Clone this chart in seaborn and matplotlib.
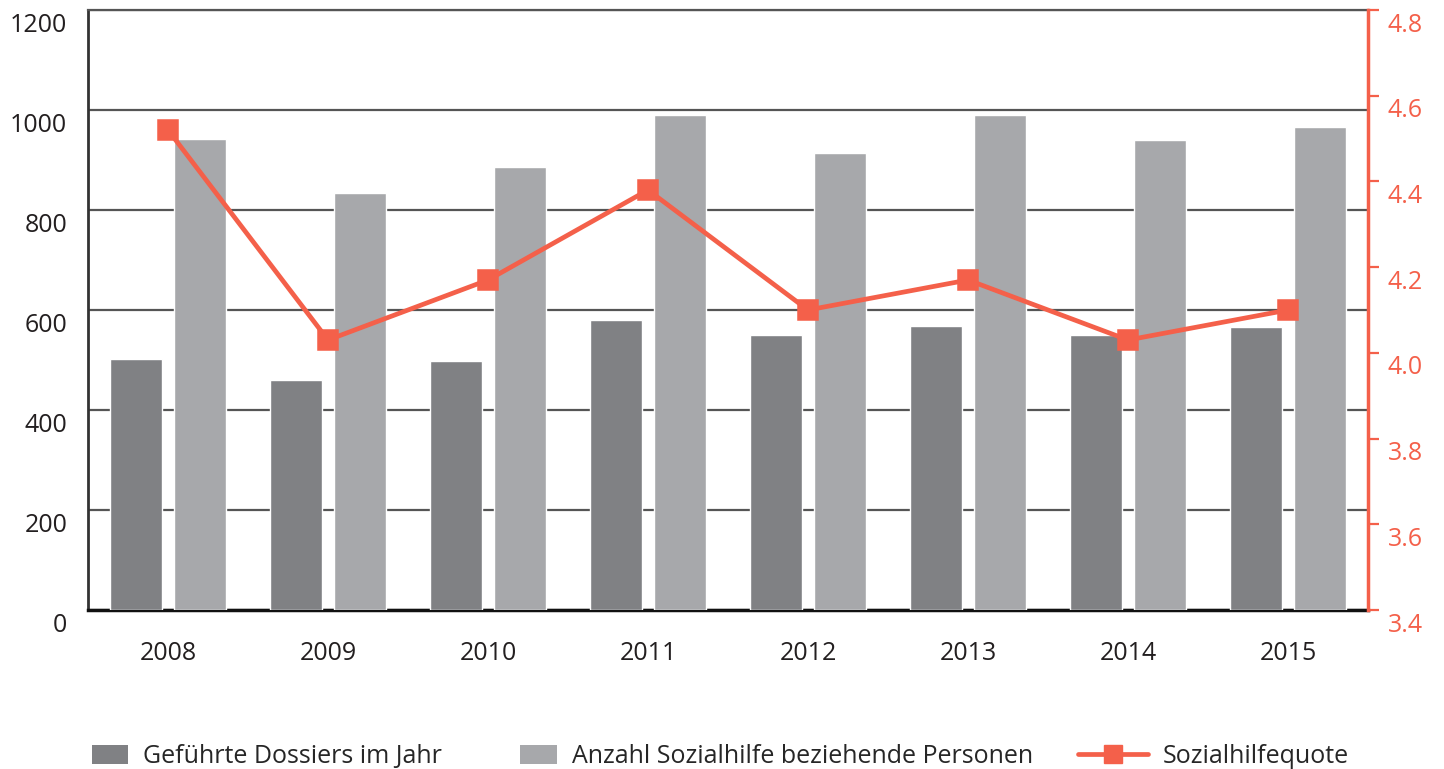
import matplotlib
matplotlib.use("Agg")
import matplotlib.pyplot as plt
import matplotlib.transforms as mtransforms
from matplotlib.patches import Patch, Rectangle
from matplotlib.lines import Line2D
from matplotlib.legend_handler import HandlerPatch
import pandas as pd
import seaborn as sns

years = ['2008', '2009', '2010', '2011', '2012', '2013', '2014', '2015']
dossiers = [502, 460, 498, 580, 550, 568, 550, 566]
personen = [942, 834, 886, 990, 914, 990, 940, 966]
quote = [4.52, 4.03, 4.17, 4.38, 4.10, 4.17, 4.03, 4.10]

lbl_dossiers = 'Geführte Dossiers im Jahr'
lbl_personen = 'Anzahl Sozialhilfe beziehende Personen'
lbl_quote = 'Sozialhilfequote'

left_ticks = [0, 200, 400, 600, 800, 1000, 1200]
right_ticks = [3.4, 3.6, 3.8, 4.0, 4.2, 4.4, 4.6, 4.8]

dark = '#808184'
light = '#a7a8ab'
orange = '#f4604a'

sns.set_style('white')
plt.rcParams['font.family'] = ['Open Sans', 'DejaVu Sans']

bars = pd.DataFrame({
    'Jahr': years * 2,
    'Serie': [lbl_dossiers] * len(years) + [lbl_personen] * len(years),
    'Wert': dossiers + personen,
})
line = pd.DataFrame({'Jahr': years, 'Quote': quote})

fig = plt.figure(figsize=(14.44, 7.69), dpi=100)
ax = fig.add_axes([88 / 1444, 1 - 610 / 769, 1280 / 1444, 600 / 769])

sns.barplot(data=bars, x='Jahr', y='Wert', hue='Serie', order=years,
            palette=[dark, light], width=0.8, gap=0.19, saturation=1,
            ax=ax, zorder=3, legend=False)
ax.set_xlim(-0.5, len(years) - 0.5)
ax.set_ylim(0, 1200)
ax.set_yticks(left_ticks)
ax.set_yticklabels([str(t) for t in left_ticks])
ax.set_xlabel('')
ax.set_ylabel('')
ax.yaxis.grid(True, color='#555555', linewidth=1.6, zorder=0)
ax.set_axisbelow(True)
ax.tick_params(axis='y', length=0, pad=15, labelsize=18, colors='#231f20')
ax.tick_params(axis='x', length=0, pad=22, labelsize=18, colors='#231f20')
ax.spines['bottom'].set_color('#111111')
ax.spines['bottom'].set_linewidth(2.5)
ax.spines['left'].set_color('#333333')
ax.spines['left'].set_linewidth(2)
ax.spines['top'].set_color('#555555')
ax.spines['top'].set_linewidth(1.6)
ax.spines['right'].set_visible(False)

ax2 = ax.twinx()
sns.pointplot(data=line, x='Jahr', y='Quote', order=years, color=orange,
              markers='s', markersize=13, linewidth=3.4, ax=ax2)
ax2.set_xlim(-0.5, len(years) - 0.5)
ax2.set_ylim(3.4, 4.8)
ax2.set_yticks(right_ticks)
ax2.set_yticklabels([f'{t:.1f}' for t in right_ticks])
ax2.set_ylabel('')
ax2.tick_params(axis='y', direction='out', length=8, width=1.6, pad=6,
                labelsize=18, colors=orange)
for side in ['left', 'top', 'bottom']:
    ax2.spines[side].set_visible(False)
ax2.spines['right'].set_color(orange)
ax2.spines['right'].set_linewidth(2.5)

# y labels sit a bit below their gridlines in the original
shift = mtransforms.ScaledTranslation(0, -0.12, fig.dpi_scale_trans)
for a in (ax, ax2):
    for tick in a.yaxis.get_major_ticks():
        tick.label1.set_transform(tick.label1.get_transform() + shift)
        tick.label2.set_transform(tick.label2.get_transform() + shift)


def small_square(legend, orig_handle, xdescent, ydescent, width, height, fontsize):
    w = 26
    h = 13
    return Rectangle((-xdescent + width - w, -ydescent + (height - h) / 2), w, h)


handles = [
    Patch(facecolor=dark, edgecolor='none'),
    Patch(facecolor=light, edgecolor='none'),
    Line2D([], [], color=orange, linewidth=3.4, marker='s', markersize=13),
]
fig.legend(handles, [lbl_dossiers, lbl_personen, lbl_quote],
           loc='center', bbox_to_anchor=(0.487, 0.016), ncol=3, frameon=False,
           fontsize=18, handlelength=2.8, handleheight=0.8,
           handletextpad=0.6, columnspacing=1.8,
           handler_map={Patch: HandlerPatch(patch_func=small_square)})

fig.savefig('out.png', dpi=100)
